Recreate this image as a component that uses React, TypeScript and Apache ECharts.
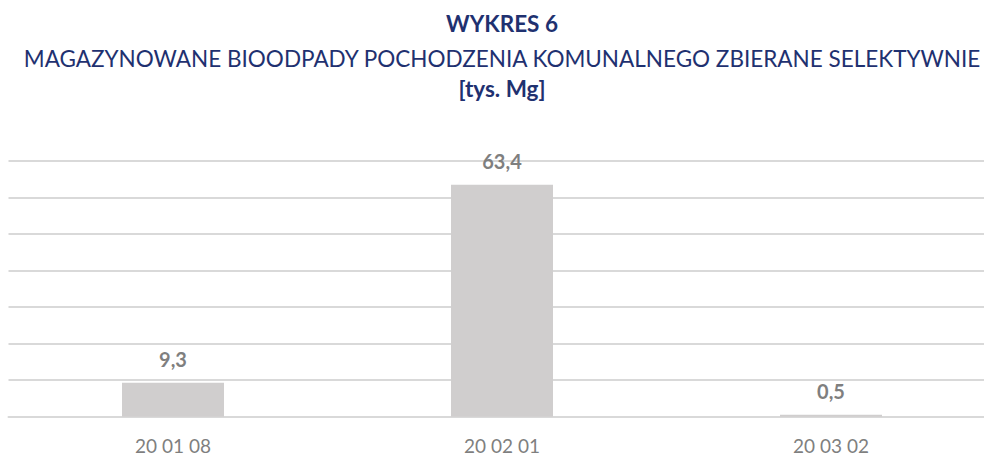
import React, { useEffect, useRef } from "react";
import * as echarts from "echarts";

const categories = ["20 01 08", "20 02 01", "20 03 02"];
const values = [9.3, 63.4, 0.5];
const titleText = "WYKRES 6";
const subtitleText = "MAGAZYNOWANE BIOODPADY POCHODZENIA KOMUNALNEGO ZBIERANE SELEKTYWNIE";
const unitText = "[tys. Mg]";

export default function App() {
  const ref = useRef<HTMLDivElement>(null);
  useEffect(() => {
    document.body.style.margin = "0";
    document.body.style.overflow = "hidden";
    const chart = echarts.init(ref.current!, null, { renderer: "svg" });
    const font = "Lato, 'Open Sans', sans-serif";
    const navy = "#1F3170";
    const cx = 502;
    const mkText = (text: string, y: number, weight: string, size: number) => ({
      type: "text",
      x: cx,
      y,
      style: {
        text,
        textAlign: "center",
        textVerticalAlign: "middle",
        fontFamily: font,
        fontSize: size,
        fontWeight: weight,
        fill: navy,
      },
    });
    chart.setOption({
      animation: false,
      backgroundColor: "#ffffff",
      graphic: [
        mkText(titleText, 23, "bold", 22.5),
        mkText(subtitleText, 58, "normal", 22.5),
        mkText(unitText, 88, "bold", 22.5),
      ],
      grid: { left: 8.5, right: 8.5, top: 160.7, height: 256, containLabel: false },
      xAxis: {
        type: "category",
        data: categories,
        axisLine: { show: true, lineStyle: { color: "#D9D9D9", width: 2 } },
        axisTick: { show: false },
        axisLabel: { color: "#7F7F7F", fontFamily: font, fontSize: 19, margin: 19 },
      },
      yAxis: {
        type: "value",
        min: 0,
        max: 70,
        interval: 10,
        axisLabel: { show: false },
        axisLine: { show: false },
        axisTick: { show: false },
        splitLine: { lineStyle: { color: "#D9D9D9", width: 2 } },
      },
      series: [
        {
          type: "bar",
          data: values,
          barWidth: 102,
          itemStyle: { color: "#D0CECE" },
          label: {
            show: true,
            position: "top",
            distance: 14,
            color: "#7F7F7F",
            fontFamily: font,
            fontSize: 20,
            fontWeight: "bold",
            formatter: (p: any) => String(p.value).replace(".", ","),
          },
        },
      ],
    });
    return () => chart.dispose();
  }, []);
  return (
    <div style={{ width: 984, height: 457, overflow: "hidden", position: "relative" }}>
      <div ref={ref} style={{ width: 1004, height: 457, position: "absolute", left: 0, top: 0 }} />
    </div>
  );
}
